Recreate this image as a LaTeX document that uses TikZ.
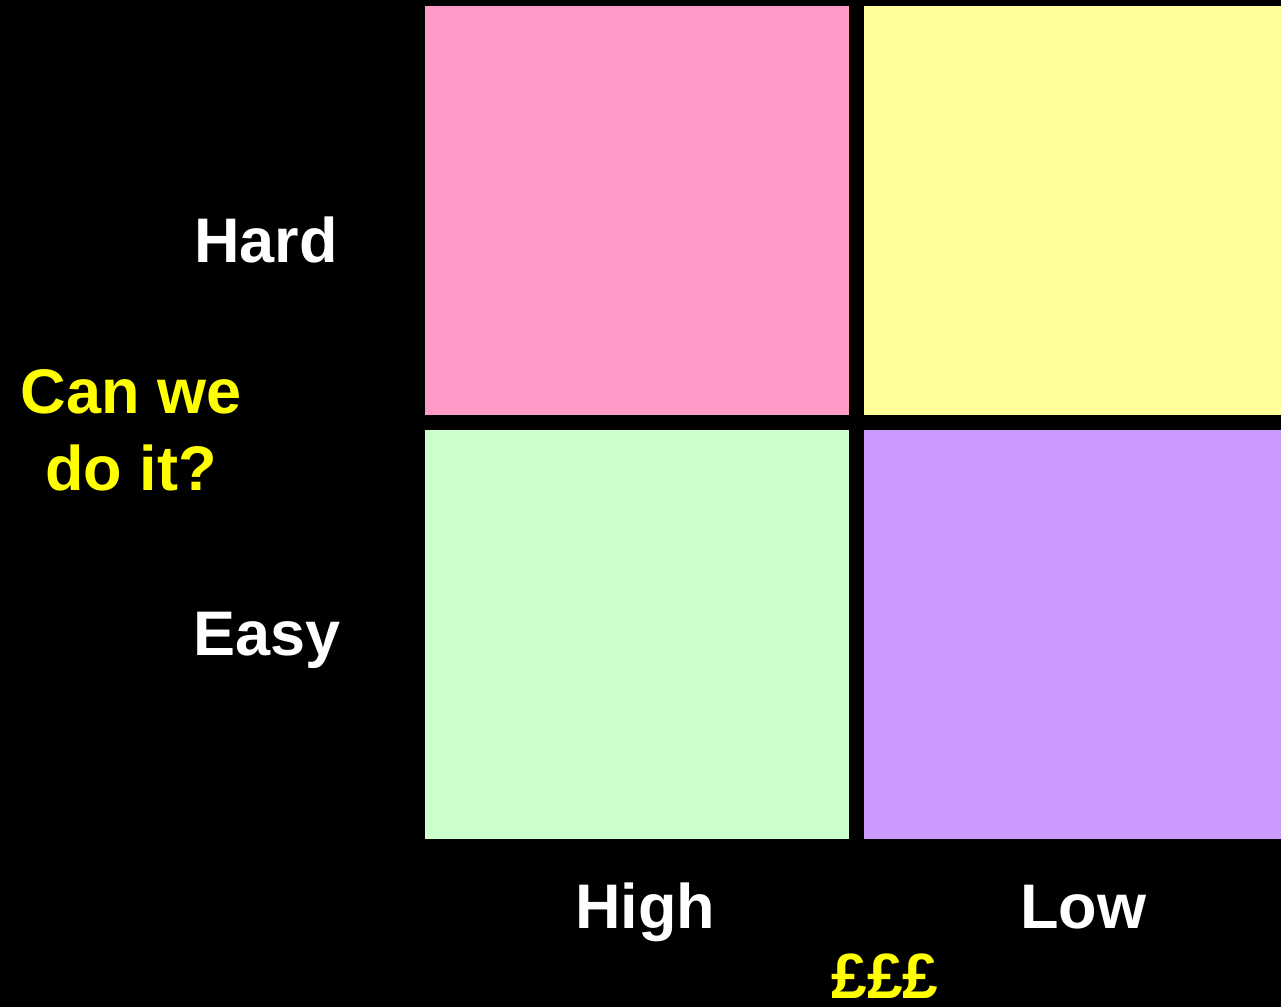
\documentclass[tikz,border=0pt]{standalone}
\usepackage{fontspec}
\setmainfont{Liberation Sans}
\definecolor{qpink}{HTML}{FF99C8}
\definecolor{qyellow}{HTML}{FFFF99}
\definecolor{qgreen}{HTML}{CCFFCC}
\definecolor{qpurple}{HTML}{CC99FF}
\definecolor{qtext}{HTML}{FFFF00}
\begin{document}
\begin{tikzpicture}[x=1pt,y=-1pt,
  lab/.style={text=white,font=\bfseries\fontsize{63}{75}\selectfont,anchor=base,inner sep=0pt},
  ylab/.style={text=qtext,font=\bfseries\fontsize{63}{77}\selectfont,anchor=base,inner sep=0pt,align=center}]
\fill[black] (0,0) rectangle (1281,1007);
\useasboundingbox (0,0) rectangle (1281,1007);
\fill[qpink] (425,6) rectangle (849,415);
\fill[qyellow] (864,6) rectangle (1281,415);
\fill[qgreen] (425,430) rectangle (849,839);
\fill[qpurple] (864,430) rectangle (1281,839);
\node[lab] (hard) at (266,262) {Hard};
\node[lab] (easy) at (267,655) {Easy};
\node[lab] (high) at (645,928) {High};
\node[lab] (low) at (1083,928) {Low};
\node[ylab] (can) at (131,413) {Can we};
\node[ylab] (doit) at (131,490) {do it?};
\node[ylab,font=\bfseries\fontsize{64}{77}\selectfont] (money) at (885,998) {£££};
\end{tikzpicture}
\end{document}
